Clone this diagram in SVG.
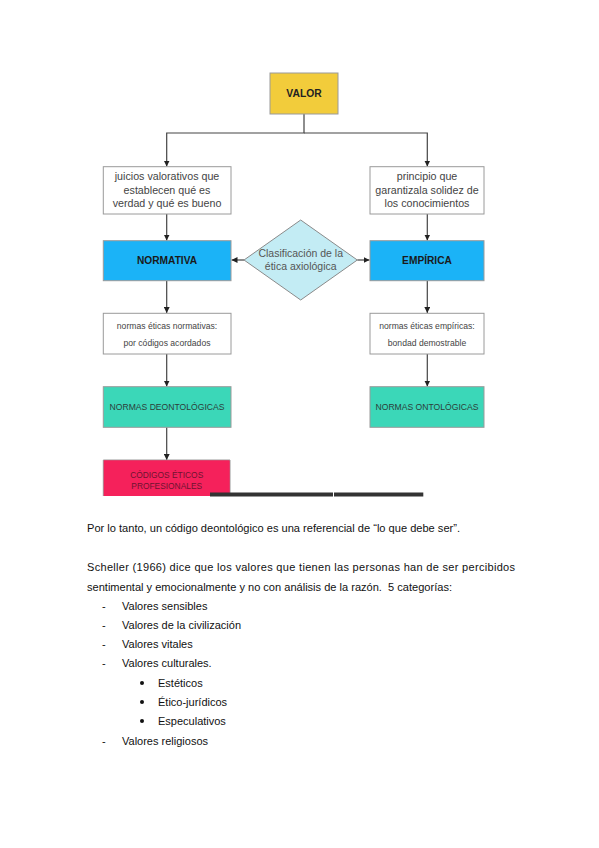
<svg xmlns="http://www.w3.org/2000/svg" width="599" height="848" viewBox="0 0 599 848">
<defs>
<marker id="ah" viewBox="0 0 8 8" refX="8" refY="4" markerWidth="6" markerHeight="6" markerUnits="userSpaceOnUse" orient="auto">
<path d="M0,0 L8,4 L0,8 Z" fill="#222"/>
</marker>
<style>
.box{stroke:#9a9a9a;stroke-width:1}
.t{font-family:"Liberation Sans",Arial,sans-serif;text-anchor:middle}
.body{font-family:"Liberation Sans",Arial,sans-serif;font-size:11px;fill:#111}
.conn{fill:none;stroke:#444;stroke-width:1.2}
</style>
</defs>
<rect width="599" height="848" fill="#fff"/>
<g id="connectors">
<path class="conn" d="M304,114 V133 H166.7 V166.5" marker-end="url(#ah)"/>
<path class="conn" d="M304,133 H427.3 V166.5" marker-end="url(#ah)"/>
<path class="conn" d="M166.7,214 V240.5" marker-end="url(#ah)"/>
<path class="conn" d="M427.3,214 V240.5" marker-end="url(#ah)"/>
<path class="conn" d="M166.7,280.7 V313" marker-end="url(#ah)"/>
<path class="conn" d="M427.3,280.7 V313" marker-end="url(#ah)"/>
<path class="conn" d="M166.7,354 V386.5" marker-end="url(#ah)"/>
<path class="conn" d="M427.3,354 V386.5" marker-end="url(#ah)"/>
<path class="conn" d="M166.7,427.3 V460" marker-end="url(#ah)"/>
<path class="conn" d="M244,260 H231.5" marker-end="url(#ah)"/>
<path class="conn" d="M357.3,260 H369.5" marker-end="url(#ah)"/>
</g>
<g id="valor">
<rect class="box" x="270" y="73" width="68" height="41" fill="#f2cc3b"/>
<text class="t" x="304" y="96.7" font-size="10.3" font-weight="bold" fill="#222">VALOR</text>
</g>
<g id="juicios">
<rect class="box" x="103.3" y="166.7" width="127.7" height="47.3" fill="#fff"/>
<text class="t" font-size="10.7" fill="#444"><tspan x="167" y="179.8">juicios valorativos que</tspan><tspan x="167" y="193.5">establecen qué es</tspan><tspan x="167" y="207">verdad y qué es bueno</tspan></text>
</g>
<g id="principio">
<rect class="box" x="370" y="166.7" width="114" height="47.3" fill="#fff"/>
<text class="t" font-size="10.7" fill="#444"><tspan x="427" y="179.8">principio que</tspan><tspan x="427" y="193.5">garantizala solidez de</tspan><tspan x="427" y="207">los conocimientos</tspan></text>
</g>
<g id="normativa">
<rect class="box" x="103.3" y="240.7" width="127.7" height="40" fill="#1bb3f7"/>
<text class="t" x="167" y="263.7" font-size="10.2" font-weight="bold" fill="#1a1a1a">NORMATIVA</text>
</g>
<g id="empirica">
<rect class="box" x="370" y="240.7" width="114" height="40" fill="#1bb3f7"/>
<text class="t" x="427" y="263.7" font-size="10.2" font-weight="bold" fill="#1a1a1a">EMPÍRICA</text>
</g>
<g id="clasificacion">
<polygon points="300.7,220 357.3,260 300.7,300 244,260" fill="#c3ecf4" stroke="#8a8a8a" stroke-width="1"/>
<text class="t" font-size="10.5" fill="#555"><tspan x="300.7" y="256.8">Clasificación de la</tspan><tspan x="300.7" y="270.4">ética axiológica</tspan></text>
</g>
<g id="normas-normativas">
<rect class="box" x="103.3" y="313.3" width="127.7" height="40.7" fill="#fff"/>
<text class="t" font-size="8.6" fill="#444"><tspan x="167" y="328.6">normas éticas normativas:</tspan><tspan x="167" y="346.2">por códigos acordados</tspan></text>
</g>
<g id="normas-empiricas">
<rect class="box" x="370" y="313.3" width="114" height="40.7" fill="#fff"/>
<text class="t" font-size="8.6" fill="#444"><tspan x="427" y="328.6">normas éticas empíricas:</tspan><tspan x="427" y="346.2">bondad demostrable</tspan></text>
</g>
<g id="deontologicas">
<rect class="box" x="103.3" y="386.7" width="127.7" height="40.6" fill="#3bd7b8"/>
<text class="t" x="167" y="410.3" font-size="8.6" fill="#2c3e3a">NORMAS DEONTOLÓGICAS</text>
</g>
<g id="ontologicas">
<rect class="box" x="370" y="386.7" width="114" height="40.6" fill="#3bd7b8"/>
<text class="t" x="427" y="410.3" font-size="8.6" fill="#2c3e3a">NORMAS ONTOLÓGICAS</text>
</g>
<g id="codigos">
<path d="M103.3,496 V460 H230 V496" fill="#f5215b" stroke="#9a9a9a" stroke-width="1"/>
<rect x="103.8" y="460.5" width="125.7" height="35.5" fill="#f5215b"/>
<text class="t" font-size="8.4" fill="#6e1430"><tspan x="166.7" y="478">CÓDIGOS ÉTICOS</tspan><tspan x="166.7" y="488.8">PROFESIONALES</tspan></text>
</g>
<g id="bar">
<rect x="210" y="492.5" width="123" height="4" fill="#333"/>
<rect x="334" y="492.5" width="89.3" height="4" fill="#333"/>
</g>
<g id="text">
<text class="body" x="87" y="532" textLength="373" lengthAdjust="spacingAndGlyphs">Por lo tanto, un código deontológico es una referencial de “lo que debe ser”.</text>
<text class="body" x="87" y="571" textLength="428" lengthAdjust="spacing">Scheller (1966) dice que los valores que tienen las personas han de ser percibidos</text>
<text class="body" x="87" y="591" textLength="365" lengthAdjust="spacingAndGlyphs" xml:space="preserve">sentimental y emocionalmente y no con análisis de la razón.  5 categorías:</text>
<text class="body" x="102" y="610">-</text><text class="body" x="122" y="610">Valores sensibles</text>
<text class="body" x="102" y="629">-</text><text class="body" x="122" y="629">Valores de la civilización</text>
<text class="body" x="102" y="648">-</text><text class="body" x="122" y="648">Valores vitales</text>
<text class="body" x="102" y="667">-</text><text class="body" x="122" y="667">Valores culturales.</text>
<circle cx="142" cy="683" r="2" fill="#111"/><text class="body" x="158" y="687">Estéticos</text>
<circle cx="142" cy="702" r="2" fill="#111"/><text class="body" x="158" y="706">Ético-jurídicos</text>
<circle cx="142" cy="721" r="2" fill="#111"/><text class="body" x="158" y="725">Especulativos</text>
<text class="body" x="102" y="745">-</text><text class="body" x="122" y="745">Valores religiosos</text>
</g>
</svg>
